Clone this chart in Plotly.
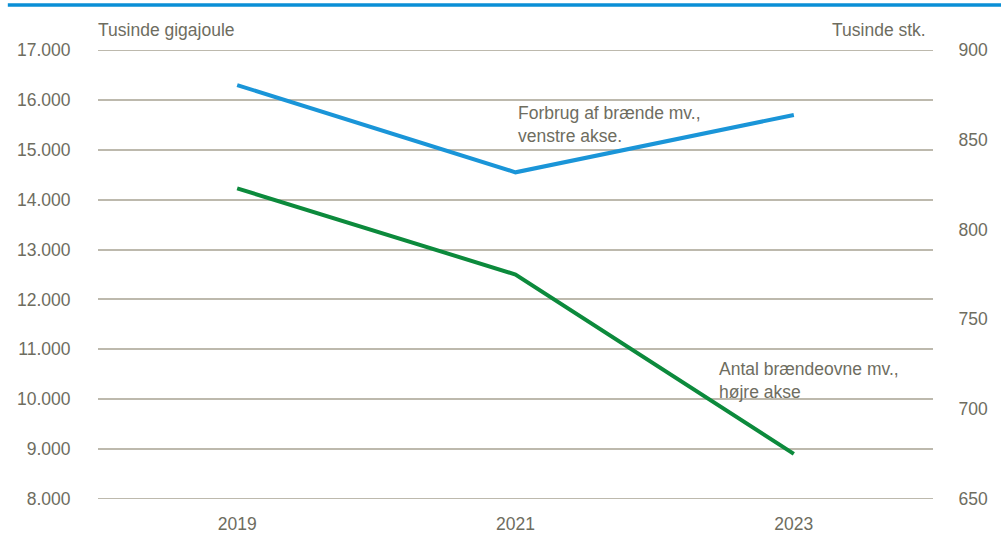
import plotly.graph_objects as go

years = ["2019", "2021", "2023"]
forbrug = [16300, 14550, 15700]      # Tusinde gigajoule (venstre akse)
antal = [823, 775, 675]              # Tusinde stk. (højre akse)
left_ticks = [8000, 9000, 10000, 11000, 12000, 13000, 14000, 15000, 16000, 17000]
left_labels = ["8.000", "9.000", "10.000", "11.000", "12.000", "13.000", "14.000", "15.000", "16.000", "17.000"]
right_ticks = [650, 700, 750, 800, 850, 900]

TXT = "#6e6d5f"
GRID = "#bdb9ad"
FONT = "Liberation Sans, Arial, sans-serif"
FS = 17.5
INVIS = "rgba(0,0,0,0)"

fig = go.Figure()
fig.add_trace(go.Scatter(x=years, y=forbrug, mode="lines", line=dict(color="#1a95d8", width=4),
                         name="Forbrug af brænde mv.", yaxis="y"))
fig.add_trace(go.Scatter(x=years, y=antal, mode="lines", line=dict(color="#0c8a3c", width=4),
                         name="Antal brændeovne mv.", yaxis="y2"))

fig.update_layout(
    width=1001, height=539,
    margin=dict(l=98, r=68, t=50, b=40),
    plot_bgcolor="white", paper_bgcolor="white",
    showlegend=False,
    font=dict(family=FONT, size=FS, color=TXT),
    xaxis=dict(type="category", range=[-0.5, 2.5], showgrid=False, showline=False,
               ticks="outside", ticklen=9, tickcolor=INVIS, automargin=False,
               tickfont=dict(size=FS, color=TXT), zeroline=False),
    yaxis=dict(range=[7996, 17004], tickvals=left_ticks, ticktext=left_labels,
               showgrid=True, gridcolor=GRID, gridwidth=1.5, zeroline=False, showline=False,
               ticks="outside", ticklen=23, tickcolor=INVIS, automargin=False,
               tickfont=dict(size=FS, color=TXT)),
    yaxis2=dict(range=[649.89, 900.11], tickvals=right_ticks, overlaying="y", side="right",
                showgrid=False, zeroline=False, showline=False, automargin=False,
                ticks="outside", ticklen=21, tickcolor=INVIS, tickfont=dict(size=FS, color=TXT)),
)

# edge gridlines (plotly omits grid at the very range limits)
for v in (left_ticks[0], left_ticks[-1]):
    fig.add_shape(type="line", xref="paper", yref="y", x0=0, x1=1, y0=v, y1=v,
                  line=dict(color=GRID, width=1.5), layer="below")

fig.add_shape(type="line", xref="paper", yref="paper", x0=-0.108, x1=1.1, y0=1.1002, y1=1.1002,
              line=dict(color="#0a8fd6", width=3.5))

ann = dict(showarrow=False, font=dict(family=FONT, size=FS, color=TXT), align="left")
fig.add_annotation(text="Tusinde gigajoule", xref="paper", yref="paper", x=-0.002, y=1.0445,
                   xanchor="left", yanchor="middle", **ann)
fig.add_annotation(text="Tusinde stk.", xref="paper", yref="paper", x=0.994, y=1.0445,
                   xanchor="right", yanchor="middle", **ann)
fig.add_annotation(text="Forbrug af brænde mv.,<br>venstre akse.", xref="paper", yref="paper",
                   x=0.5006, y=0.834, xanchor="left", yanchor="middle", **ann)
fig.add_annotation(text="Antal brændeovne mv.,<br>højre akse", xref="paper", yref="paper",
                   x=0.7413, y=0.264, xanchor="left", yanchor="middle", **ann)

fig.write_html("out.html", config={"displayModeBar": False},
               post_script="document.body.style.margin='0';")
